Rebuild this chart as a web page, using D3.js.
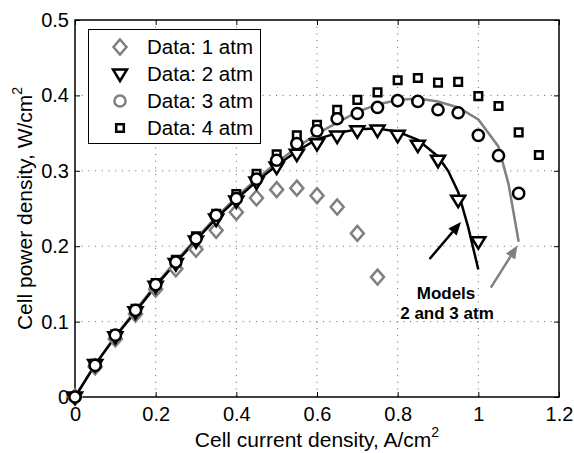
<!DOCTYPE html>
<html>
<head>
<meta charset="utf-8">
<script src="https://cdn.jsdelivr.net/npm/d3@7"></script>
<style>
  body { margin: 0; background: #fff; }
  svg { font-family: "Liberation Sans", Arial, sans-serif; }
</style>
</head>
<body>
<div id="chart"></div>
<script>
// measured data (A/cm2 vs W/cm2)
var x1 = [0, 0.05, 0.1, 0.15, 0.2, 0.25, 0.3, 0.35, 0.4, 0.45, 0.5, 0.55, 0.6, 0.65, 0.7, 0.75];
var p1 = [0, 0.040, 0.077, 0.110, 0.143, 0.170, 0.196, 0.221, 0.245, 0.264, 0.275, 0.277, 0.267, 0.252, 0.217, 0.159];

var x2 = [0, 0.05, 0.1, 0.15, 0.2, 0.25, 0.3, 0.35, 0.4, 0.45, 0.5, 0.55, 0.6, 0.65, 0.7, 0.75, 0.8, 0.85, 0.9, 0.95, 1.0];
var p2 = [0, 0.043, 0.080, 0.113, 0.147, 0.177, 0.207, 0.236, 0.260, 0.285, 0.305, 0.322, 0.336, 0.346, 0.353, 0.354, 0.347, 0.334, 0.314, 0.261, 0.206];

var x3 = [0, 0.05, 0.1, 0.15, 0.2, 0.25, 0.3, 0.35, 0.4, 0.45, 0.5, 0.55, 0.6, 0.65, 0.7, 0.75, 0.8, 0.85, 0.9, 0.95, 1.0, 1.05, 1.1];
var p3 = [0, 0.042, 0.082, 0.115, 0.149, 0.179, 0.210, 0.241, 0.263, 0.289, 0.314, 0.336, 0.353, 0.369, 0.376, 0.384, 0.393, 0.392, 0.381, 0.377, 0.347, 0.320, 0.270];

var x4 = [0, 0.05, 0.1, 0.15, 0.2, 0.25, 0.3, 0.35, 0.4, 0.45, 0.5, 0.55, 0.6, 0.65, 0.7, 0.75, 0.8, 0.85, 0.9, 0.95, 1.0, 1.05, 1.1, 1.15];
var p4 = [0, 0.044, 0.083, 0.117, 0.151, 0.182, 0.213, 0.243, 0.269, 0.296, 0.322, 0.347, 0.361, 0.381, 0.394, 0.404, 0.420, 0.423, 0.417, 0.418, 0.399, 0.386, 0.351, 0.321];

// model curves
var xm2 = [0, 0.05, 0.1, 0.15, 0.2, 0.25, 0.3, 0.35, 0.4, 0.45, 0.5, 0.55, 0.6, 0.65, 0.7, 0.75, 0.8, 0.85, 0.9, 0.925, 0.95, 0.975, 1.0];
var pm2 = [0, 0.043, 0.080, 0.113, 0.147, 0.178, 0.208, 0.237, 0.262, 0.286, 0.307, 0.326, 0.342, 0.350, 0.355, 0.356, 0.352, 0.341, 0.319, 0.300, 0.272, 0.225, 0.169];

var xm3 = [0, 0.05, 0.1, 0.15, 0.2, 0.25, 0.3, 0.35, 0.4, 0.45, 0.5, 0.55, 0.6, 0.65, 0.7, 0.75, 0.8, 0.85, 0.9, 0.95, 1.0, 1.05, 1.075, 1.1];
var pm3 = [0, 0.043, 0.081, 0.115, 0.149, 0.180, 0.210, 0.239, 0.265, 0.289, 0.311, 0.331, 0.349, 0.364, 0.378, 0.388, 0.394, 0.396, 0.392, 0.384, 0.368, 0.332, 0.282, 0.206];

var xTicks = [0, 0.2, 0.4, 0.6, 0.8, 1, 1.2];
var yTicks = [0, 0.1, 0.2, 0.3, 0.4, 0.5];
var legendLabels = ["Data: 1 atm", "Data: 2 atm", "Data: 3 atm", "Data: 4 atm"];

var W = 574, H = 453;
var pL = 75, pR = 559, pT = 20, pB = 397;
var gray = "#808080";

var x = d3.scaleLinear().domain([0, 1.2]).range([pL, pR]);
var y = d3.scaleLinear().domain([0, 0.5]).range([pB, pT]);

var svg = d3.select("#chart").append("svg")
  .attr("width", W)
  .attr("height", H);

// grid
svg.append("g").selectAll("line")
  .data(xTicks.slice(1, -1))
  .enter().append("line")
  .attr("x1", d => x(d)).attr("x2", d => x(d))
  .attr("y1", pT).attr("y2", pB)
  .attr("stroke", "#666").attr("stroke-width", 1)
  .attr("stroke-dasharray", "1,5.7");

svg.append("g").selectAll("line")
  .data(yTicks.slice(1, -1))
  .enter().append("line")
  .attr("x1", pL).attr("x2", pR)
  .attr("y1", d => y(d)).attr("y2", d => y(d))
  .attr("stroke", "#666").attr("stroke-width", 1)
  .attr("stroke-dasharray", "1,5.7");

// axes (ticks point inward, box all round)
var tl = 5;
svg.append("g").attr("transform", "translate(0," + pB + ")")
  .call(d3.axisBottom(x).tickValues(xTicks).tickSize(-tl).tickPadding(10).tickFormat(d3.format("")))
  .call(g => g.select(".domain").remove());
svg.append("g").attr("transform", "translate(0," + pT + ")")
  .call(d3.axisTop(x).tickValues(xTicks).tickSize(-tl).tickFormat(""))
  .call(g => g.select(".domain").remove());
svg.append("g").attr("transform", "translate(" + pL + ",0)")
  .call(d3.axisLeft(y).tickValues(yTicks).tickSize(-tl).tickPadding(6).tickFormat(d3.format("")))
  .call(g => g.select(".domain").remove());
svg.append("g").attr("transform", "translate(" + pR + ",0)")
  .call(d3.axisRight(y).tickValues(yTicks).tickSize(-tl).tickFormat(""))
  .call(g => g.select(".domain").remove());

svg.selectAll(".tick text")
  .attr("font-size", 20)
  .attr("font-family", "Liberation Sans, Arial, sans-serif")
  .attr("fill", "#000");
svg.selectAll(".tick line").attr("stroke", "#000");

svg.append("rect")
  .attr("x", pL).attr("y", pT)
  .attr("width", pR - pL).attr("height", pB - pT)
  .attr("fill", "none").attr("stroke", "#000").attr("stroke-width", 1.5);

// model lines
var line = d3.line().x(d => x(d[0])).y(d => y(d[1]));
svg.append("path")
  .datum(d3.zip(xm3, pm3))
  .attr("d", line)
  .attr("fill", "none").attr("stroke", gray).attr("stroke-width", 2.5);
svg.append("path")
  .datum(d3.zip(xm2, pm2))
  .attr("d", line)
  .attr("fill", "none").attr("stroke", "#000").attr("stroke-width", 2.5);

// marker shapes
function diamond() { return "M0,-7.5L6.5,0L0,7.5L-6.5,0Z"; }
function triDown() { return "M-7,-4.5L7,-4.5L0,7Z"; }
function square() { return "M-3.8,-3.8H3.8V3.8H-3.8Z"; }

function drawPoints(xs, ps, shape, color) {
  svg.append("g").selectAll("path")
    .data(d3.zip(xs, ps))
    .enter().append("path")
    .attr("transform", d => "translate(" + x(d[0]) + "," + y(d[1]) + ")")
    .attr("d", shape)
    .attr("fill", "#fff").attr("stroke", color).attr("stroke-width", 2.5);
}

drawPoints(x1, p1, diamond, gray);
drawPoints(x4, p4, square, "#000");
drawPoints(x2, p2, triDown, "#000");

svg.append("g").selectAll("circle")
  .data(d3.zip(x3, p3))
  .enter().append("circle")
  .attr("cx", d => x(d[0])).attr("cy", d => y(d[1]))
  .attr("r", 5.6)
  .attr("fill", "#fff").attr("stroke", "#000").attr("stroke-width", 2.5);

// annotation arrows
function arrow(x0, y0, x1_, y1_, color) {
  var ax = x(x0), ay = y(y0), bx = x(x1_), by = y(y1_);
  var ang = Math.atan2(by - ay, bx - ax);
  var hl = 13, hw = 5.5;
  var cx = bx - hl * Math.cos(ang), cy = by - hl * Math.sin(ang);
  svg.append("line")
    .attr("x1", ax).attr("y1", ay).attr("x2", cx).attr("y2", cy)
    .attr("stroke", color).attr("stroke-width", 2.5);
  svg.append("path")
    .attr("d", "M" + bx + "," + by +
      "L" + (cx + hw * Math.sin(ang)) + "," + (cy - hw * Math.cos(ang)) +
      "L" + (cx - hw * Math.sin(ang)) + "," + (cy + hw * Math.cos(ang)) + "Z")
    .attr("fill", color);
}
arrow(0.879, 0.183, 0.957, 0.232, "#000");
arrow(1.031, 0.145, 1.097, 0.201, gray);

svg.append("text")
  .attr("x", 446).attr("y", 299)
  .attr("text-anchor", "middle")
  .attr("font-size", 17).attr("font-weight", "bold")
  .text("Models");
svg.append("text")
  .attr("x", 447).attr("y", 319)
  .attr("text-anchor", "middle")
  .attr("font-size", 17).attr("font-weight", "bold")
  .text("2 and 3 atm");

// legend
var lg = svg.append("g");
lg.append("rect")
  .attr("x", 88.5).attr("y", 29.5)
  .attr("width", 172).attr("height", 114)
  .attr("fill", "#fff").attr("stroke", "#000").attr("stroke-width", 1);

var legendShapes = [diamond, triDown, null, square];
var legendColors = [gray, "#000", gray, "#000"];
legendLabels.forEach(function(lab, i) {
  var ly = 47 + i * 27;
  if (legendShapes[i]) {
    lg.append("path")
      .attr("transform", "translate(120," + ly + ")")
      .attr("d", legendShapes[i])
      .attr("fill", "#fff").attr("stroke", legendColors[i]).attr("stroke-width", 2.5);
  } else {
    lg.append("circle")
      .attr("cx", 120).attr("cy", ly).attr("r", 5.6)
      .attr("fill", "#fff").attr("stroke", legendColors[i]).attr("stroke-width", 2.5);
  }
  lg.append("text")
    .attr("x", 147).attr("y", ly + 7)
    .attr("font-size", 20.5)
    .text(lab);
});

// axis labels
var xl = svg.append("text")
  .attr("x", (pL + pR) / 2).attr("y", 447)
  .attr("text-anchor", "middle")
  .attr("font-size", 21);
xl.append("tspan").text("Cell current density, A/cm");
xl.append("tspan").attr("font-size", 14).attr("dy", -10).text("2");

var yl = svg.append("text")
  .attr("transform", "translate(32," + ((pT + pB) / 2) + ") rotate(-90)")
  .attr("text-anchor", "middle")
  .attr("font-size", 21);
yl.append("tspan").text("Cell power density, W/cm");
yl.append("tspan").attr("font-size", 14).attr("dy", -10).text("2");
</script>
</body>
</html>
